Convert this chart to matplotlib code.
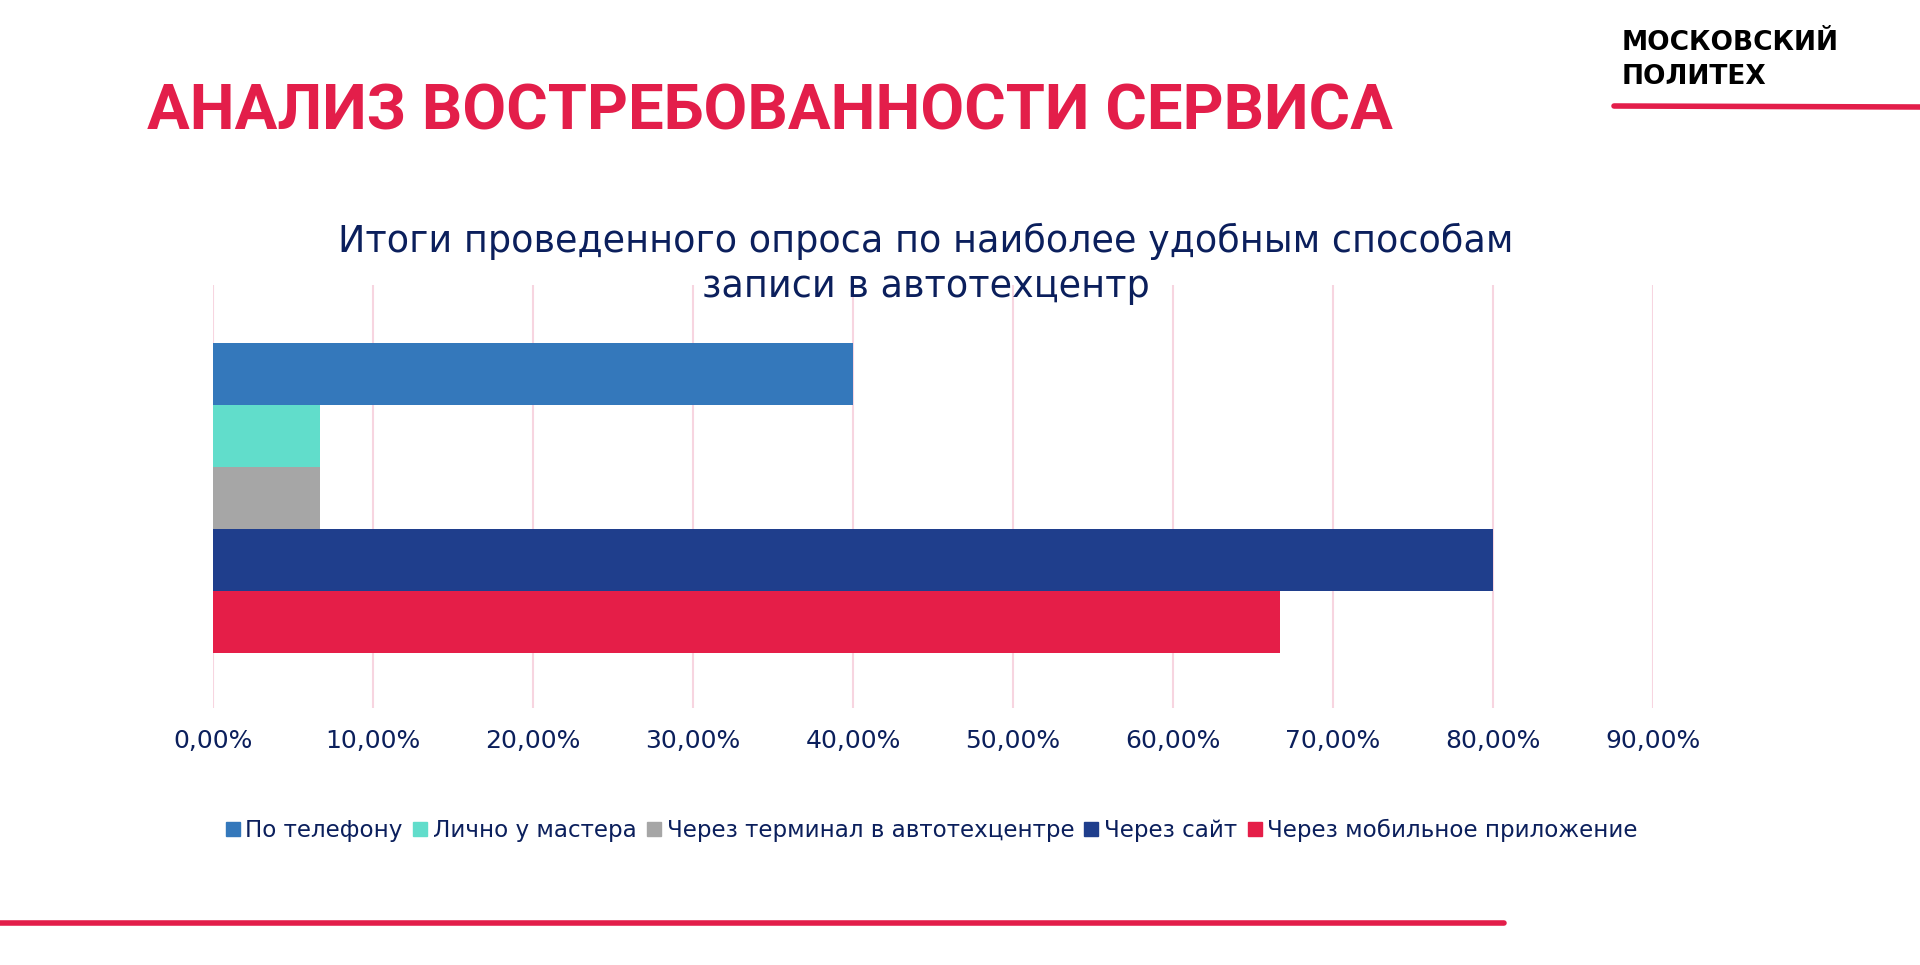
import matplotlib.pyplot as plt
from matplotlib.lines import Line2D

# survey results: share of respondents per booking channel
series = ['По телефону', 'Лично у мастера', 'Через терминал в автотехцентре',
          'Через сайт', 'Через мобильное приложение']
values = [0.40, 0.0667, 0.0667, 0.80, 0.6667]
colors = ['#3478BB', '#61DDCB', '#A6A6A6', '#1F3E8C', '#E51E48']
ticks = [0.0, 0.1, 0.2, 0.3, 0.4, 0.5, 0.6, 0.7, 0.8, 0.9]
tick_labels = ['0,00%', '10,00%', '20,00%', '30,00%', '40,00%',
               '50,00%', '60,00%', '70,00%', '80,00%', '90,00%']

RED = '#E31E4A'
NAVY = '#0B1F5C'

plt.rcParams['font.family'] = ['DejaVu Sans']

fig = plt.figure(figsize=(19.2, 9.65), dpi=100)
fig.patch.set_facecolor('white')

ax = fig.add_axes([0.1109, 0.2663, 0.861 - 0.1109, 0.7047 - 0.2663])
for i, (name, v, c) in enumerate(zip(series, values, colors)):
    ax.barh(i, v, height=1.0, color=c, label=name, zorder=2)

ax.set_xlim(0, 0.9)
ax.set_ylim(5.387, -1.435)
ax.set_xticks(ticks)
ax.set_xticklabels(tick_labels, fontsize=18, color=NAVY)
ax.tick_params(axis='x', length=0, pad=15)
ax.set_yticks([])
ax.grid(axis='x', color='#F7D5E0', linewidth=1.5, zorder=0)
for s in ax.spines.values():
    s.set_visible(False)

# legend below the plot
handles = [Line2D([], [], marker='s', linestyle='', markersize=10,
                  markerfacecolor=c, markeredgecolor=c) for c in colors]
fig.legend(handles, series, loc='center', bbox_to_anchor=(0.485, 1 - 830 / 965),
           ncol=5, frameon=False, fontsize=16.6, labelcolor=NAVY,
           handlelength=0.7, handletextpad=0.2, columnspacing=0.4)

# chart title
fig.text(0.482, 1 - 264 / 965,
         'Итоги проведенного опроса по наиболее удобным способам\nзаписи в автотехцентр',
         ha='center', va='center', fontsize=26.3, color=NAVY, linespacing=1.25)

# slide header
fig.text(147 / 1920, 1 - 112 / 965, 'АНАЛИЗ ВОСТРЕБОВАННОСТИ СЕРВИСА',
         ha='left', va='center', fontsize=45.7, fontweight='bold', color=RED,
         family='Roboto')

# logo
fig.text(1622 / 1920, 1 - 60 / 965, 'МОСКОВСКИЙ\nПОЛИТЕХ', ha='left', va='center',
         fontsize=19, fontweight='bold', color='black', family='DejaVu Sans',
         linespacing=1.35)
fig.add_artist(Line2D([1614 / 1920, 1.0], [1 - 106 / 965, 1 - 107 / 965],
                      color=RED, linewidth=4, solid_capstyle='round'))

# bottom accent line
fig.add_artist(Line2D([0.0, 1504 / 1920], [1 - 923 / 965, 1 - 923 / 965],
                      color=RED, linewidth=4, solid_capstyle='round'))

fig.savefig('out.png', dpi=100, facecolor='white')
